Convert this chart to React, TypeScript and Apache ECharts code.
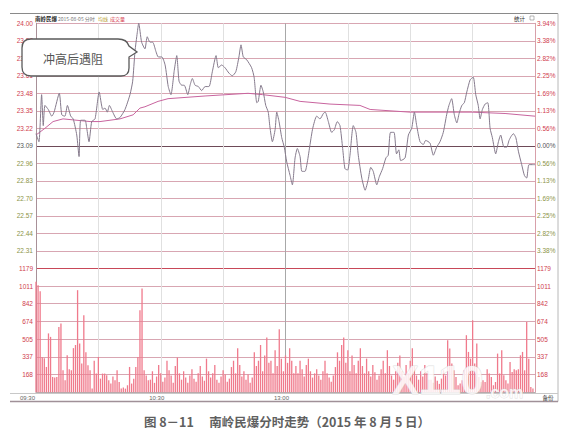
import React, { useEffect, useRef } from "react";
import * as echarts from "echarts";

const PREV_CLOSE = 23.09;
const STEP = 0.13;
const VOL_MAX = 1179;

const priceMinutes = [
  0, 1.4, 2.7, 3.5, 4.3, 5.9, 7.6, 8.7, 11.2, 12.4, 13.9, 15.1, 16.7, 17.9, 19.6, 20.7, 21.5, 23.6, 24.4, 25.5,
  26.8, 28.4, 30.4, 32.1, 33.2, 34.3, 35.3, 36.9, 38.8, 40.4, 42.8, 45.2, 46.5, 47.6, 48.7, 49.4, 50.8, 52.4, 53.5, 54.8,
  56.1, 57.7,
  58.8, 60.5, 62.1, 63.6, 64.9, 66.5, 67.7, 68.8, 70.1, 71.3, 73.0, 74.1, 75.2, 76.5, 78.1, 79.7, 81.3, 83.2, 84.8, 86.6,
  87.7, 89.3, 90.9, 92.8, 94.4, 96.1, 97.6, 98.6, 99.7, 101.3, 103.7, 104.9, 106.2, 106.9, 108.2, 109.3, 110.5, 111.7, 112.5, 113.7,
  115.0, 115.8, 116.9, 118.2, 119.4,
  120.6, 122.2, 123.3, 124.6, 125.7, 127.0, 127.9, 129.4, 130.5, 131.8, 133.1, 135.0, 136.6, 138.2, 139.1, 140.6, 142.2, 143.5, 144.9, 146.2,
  147.5, 148.6, 149.9, 151.0, 152.6, 153.9, 155.0, 156.7, 158.3, 159.8, 161.0, 162.2, 163.9, 165.1, 166.7, 168.3, 169.4, 170.5, 172.2, 173.4,
  174.5, 175.4, 177.5, 179.1, 180.7, 182.0, 183.1, 184.7, 186.3, 187.4, 189.5, 191.1, 192.7, 194.3, 195.9, 197.5, 198.6, 199.9, 201.2, 202.4,
  203.5, 204.8, 206.0, 207.2, 208.8, 210.3, 211.5, 212.7, 213.6, 214.7, 216.0, 217.3, 218.4, 219.5, 221.1, 222.4, 223.5, 225.1, 226.4, 227.5,
  228.5, 229.6, 230.8, 232.0, 233.6, 234.9, 236.0, 237.1, 239.2, 240,
];

const priceValues = [
  23.18, 23.12, 23.47, 23.24, 23.39, 23.36, 23.31, 23.34, 23.48, 23.32, 23.31, 23.39, 23.31, 23.29, 23.17, 23.01, 23.28, 23.28, 23.22, 23.12,
  23.27, 23.29, 23.49, 23.36, 23.37, 23.34, 23.39, 23.34, 23.29, 23.30, 23.36, 23.47, 23.57, 23.79, 23.93, 24.0, 23.86, 23.81, 23.9, 23.86,
  23.86, 23.79,
  23.75, 23.75, 23.69, 23.53, 23.47, 23.65, 23.76, 23.57, 23.54, 23.54, 23.47, 23.54, 23.59, 23.54, 23.53, 23.5, 23.53, 23.53, 23.64, 23.76,
  23.67, 23.69, 23.67, 23.63, 23.61, 23.64, 23.75, 23.84, 23.75, 23.73, 23.67, 23.6, 23.41, 23.42, 23.54, 23.49, 23.39, 23.34, 23.23, 23.12,
  23.21, 23.34, 23.27, 23.15, 23.08,
  22.97, 22.87, 22.8, 23.0, 23.07, 23.01, 22.9, 22.9, 22.97, 23.1, 23.22, 23.31, 23.29, 23.33, 23.34, 23.27, 23.19, 23.21, 23.27, 23.24,
  23.07, 22.92, 22.91, 23.02, 23.24, 23.19, 23.02, 22.85, 22.76, 22.84, 22.93, 22.9, 22.8, 22.86, 22.92, 23.0, 23.02, 23.19, 23.19, 23.03,
  23.06, 22.98, 23.0, 23.17, 23.22, 23.34, 23.24, 23.12, 23.1, 23.13, 23.11, 23.02, 23.08, 23.12, 23.19, 23.32, 23.39, 23.44, 23.32, 23.26,
  23.33, 23.39, 23.41, 23.49, 23.58, 23.6, 23.47, 23.39, 23.29, 23.36, 23.4, 23.41, 23.22, 23.15, 23.03, 23.12, 23.17, 23.08, 23.08, 23.13,
  23.16, 23.18, 23.15, 23.05, 22.95, 22.87, 22.85, 22.95, 22.95, 22.95,
];

const avgMinutes = [0, 4.3, 8.2, 13, 26, 30.8, 40.4, 46.7, 50, 52.4, 58.7, 63.5, 81.3, 102, 109, 119.8, 127, 141.4, 155.8, 160.7, 179.9, 209.7, 225.6, 240];
const avgValues = [23.17, 23.22, 23.27, 23.29, 23.27, 23.27, 23.29, 23.32, 23.37, 23.38, 23.42, 23.44, 23.46, 23.48, 23.47, 23.45, 23.42, 23.4, 23.39, 23.36, 23.34, 23.34, 23.33, 23.31];

const volumes = [
  1050, 1019, 960, 333, 323, 241, 560, 527, 146, 140,
  146, 622, 654, 209, 115, 352, 219, 209, 420, 450,
  971, 463, 273, 733, 380, 257, 209, 35, 300, 178,
  336, 130, 178, 178, 162, 114, 83, 150, 114, 209,
  98, 35, 45, 35, 67, 241, 83, 130, 241, 336,
  781, 987, 209, 160, 114, 120, 200, 90, 150, 260,
  180, 100, 140, 300, 210, 160, 90, 250, 330, 180,
  120, 200, 140, 90, 160, 220, 130, 100, 180, 250,
  150, 110, 320, 200, 140, 180, 260, 120, 90, 150,
  210, 170, 100, 130, 240, 300, 180, 420, 260, 150,
  200, 120, 170, 90, 140, 380, 250, 300, 450, 200,
  350, 520, 280, 300, 180, 400, 250, 600, 320, 200,
  350, 280, 420, 300, 180, 250, 180, 300, 220, 150,
  260, 320, 200, 140, 180, 220, 160, 120, 200, 300,
  180, 140, 100, 160, 240, 380, 300, 450, 520, 280,
  400, 200, 350, 260, 180, 300, 420, 250, 180, 320,
  200, 150, 260, 190, 120, 160, 220, 300, 180, 400,
  250, 160, 120, 200, 280, 350, 200, 150, 260, 180,
  300, 420, 250, 160, 120, 200, 150, 260, 180, 120,
  120, 90, 150, 110, 80, 130, 209, 160, 495, 416,
  273, 209, 146, 67, 83, 114, 209, 543, 384, 320,
  685, 273, 463, 146, 98, 114, 98, 219, 178, 146,
  67, 98, 368, 178, 400, 162, 114, 83, 289, 194,
  219, 209, 219, 352, 384, 209, 669, 320, 51, 35,
];

const timeLabels = ["09:30", "10:30", "13:00"];
const timeLabelMinutes = [0, 60, 120];

const calloutPath =
  "M31 39 L118 39 Q127 39 129 46 L137 52 L129 57 L129 68 Q129 76 121 76 L31 76 Q22 76 22 67 L22 48 Q22 39 31 39 Z";
let registered = false;
function ensureShapes() {
  if (registered) return;
  echarts.graphic.registerShape("callout", echarts.graphic.extendPath(calloutPath, {}) as any);
  registered = true;
}

const FONT = "Liberation Sans";
const CJK = '"Noto Sans CJK SC"';
const GRID_LEFT = 36;
const GRID_RIGHT = 39;
const PRICE_TOP = 23.3;
const PRICE_H = 245;
const VOL_TOP = PRICE_TOP + PRICE_H;
const VOL_H = 124;

function buildOption() {
  const priceData = priceMinutes.map((m, i) => [m, (priceValues[i] - PREV_CLOSE) / STEP]);
  const avgData = avgMinutes.map((m, i) => [m, (avgValues[i] - PREV_CLOSE) / STEP]);
  const volUnit = VOL_MAX / 7;
  const volData = volumes.map((v, i) => [i, v / volUnit]);

  const priceSplit: string[] = [];
  for (let i = 0; i <= 14; i++) priceSplit.push(i === 0 ? "#c84858" : i === 7 ? "#6e4a58" : "#d8a6b2");
  const volSplit: string[] = [];
  for (let i = 0; i <= 7; i++) volSplit.push(i === 0 ? "#b8b8b8" : i === 7 ? "#c84858" : "#d8a6b2");
  const vSplit: string[] = [];
  for (let i = 0; i <= 8; i++) vSplit.push(i === 4 ? "#a8a8a8" : "#e0e0e0");

  const rich = {
    u: { color: "#d0404e", fontSize: 6.5, fontFamily: FONT },
    z: { color: "#555555", fontSize: 6.5, fontFamily: FONT },
    d: { color: "#8c9448", fontSize: 6.5, fontFamily: FONT },
  };

  const xCommon = (gridIndex: number) => ({
    type: "value" as const,
    gridIndex,
    min: 0,
    max: 240,
    interval: 30,
    axisLabel: { show: false },
    axisTick: { show: false },
    axisLine: { show: gridIndex === 1, lineStyle: { color: "#b0b0b0" } },
    splitLine: { show: true, lineStyle: { color: vSplit, width: 1 } },
  });

  const timeTexts = timeLabels.map((t, i) => ({
    type: "text",
    x: timeLabelMinutes[i] === 0 ? 27.5 : GRID_LEFT + (timeLabelMinutes[i] / 240) * 499 - 4,
    y: 397.5,
    style: { text: t, fill: "#666", font: `6px ${FONT}`, textAlign: "center", textVerticalAlign: "middle" },
  }));

  return {
    animation: false,
    backgroundColor: "#ffffff",
    grid: [
      { left: GRID_LEFT, right: GRID_RIGHT, top: PRICE_TOP, height: PRICE_H },
      { left: GRID_LEFT, right: GRID_RIGHT, top: VOL_TOP, height: VOL_H },
    ],
    xAxis: [xCommon(0), xCommon(1)],
    yAxis: [
      {
        type: "value",
        gridIndex: 0,
        position: "left",
        min: -7,
        max: 7,
        interval: 1,
        axisLine: { show: true, lineStyle: { color: "#a89098" } },
        axisTick: { show: false },
        axisLabel: {
          showMinLabel: false,
          showMaxLabel: true,
          margin: 3,
          formatter: (v: number) => {
            const s = (PREV_CLOSE + v * STEP).toFixed(2);
            return v > 0 ? `{u|${s}}` : v < 0 ? `{d|${s}}` : `{z|${s}}`;
          },
          rich,
        },
        splitLine: { show: true, lineStyle: { color: priceSplit, width: 1 } },
      },
      {
        type: "value",
        gridIndex: 0,
        position: "right",
        min: -7,
        max: 7,
        interval: 1,
        axisLine: { show: true, lineStyle: { color: "#d8a0aa" } },
        axisTick: { show: false },
        axisLabel: {
          showMinLabel: false,
          showMaxLabel: true,
          margin: 2,
          formatter: (v: number) => {
            const s = Math.abs((v * STEP * 100) / PREV_CLOSE).toFixed(2) + "%";
            return v > 0 ? `{u|${s}}` : v < 0 ? `{d|${s}}` : `{z|${s}}`;
          },
          rich,
        },
        splitLine: { show: false },
      },
      {
        type: "value",
        gridIndex: 1,
        position: "left",
        min: 0,
        max: 7,
        interval: 1,
        axisLine: { show: true, lineStyle: { color: "#a89098" } },
        axisTick: { show: false },
        axisLabel: {
          showMinLabel: false,
          showMaxLabel: true,
          margin: 3,
          formatter: (v: number) => `{u|${Math.round((v * VOL_MAX) / 7)}}`,
          rich,
        },
        splitLine: { show: true, lineStyle: { color: volSplit, width: 1 } },
      },
      {
        type: "value",
        gridIndex: 1,
        position: "right",
        min: 0,
        max: 7,
        interval: 1,
        axisLine: { show: true, lineStyle: { color: "#d8a0aa" } },
        axisTick: { show: false },
        axisLabel: {
          showMinLabel: false,
          showMaxLabel: true,
          margin: 2,
          formatter: (v: number) => `{u|${Math.round((v * VOL_MAX) / 7)}}`,
          rich,
        },
        splitLine: { show: false },
      },
    ],
    series: [
      {
        type: "line",
        name: "avg",
        xAxisIndex: 0,
        yAxisIndex: 0,
        data: avgData,
        showSymbol: false,
        lineStyle: { color: "#c8649e", width: 1 },
        z: 3,
      },
      {
        type: "line",
        name: "price",
        xAxisIndex: 0,
        yAxisIndex: 0,
        data: priceData,
        showSymbol: false,
        smooth: 0.2,
        lineStyle: { color: "#857a8c", width: 1 },
        z: 4,
      },
      {
        type: "bar",
        name: "vol",
        xAxisIndex: 1,
        yAxisIndex: 2,
        data: volData,
        barWidth: 1.3,
        itemStyle: { color: "#f07a8c", borderWidth: 0 },
        z: 3,
      },
    ],
    graphic: [
      { type: "line", shape: { x1: 10, y1: 13.5, x2: 558, y2: 13.5 }, style: { stroke: "#8a8a8a", lineWidth: 1 } },
      { type: "line", shape: { x1: 558, y1: 13.5, x2: 558, y2: 401.5 }, style: { stroke: "#b8b8b8", lineWidth: 1 } },
      { type: "line", shape: { x1: 10, y1: 393.5, x2: 558, y2: 393.5 }, style: { stroke: "#c8c8c8", lineWidth: 1 } },
      { type: "line", shape: { x1: 10, y1: 401.5, x2: 558, y2: 401.5 }, style: { stroke: "#a09098", lineWidth: 1.5 } },
      {
        type: "text",
        x: 35,
        y: 18.5,
        style: { text: "南岭民爆", fill: "#222", font: `bold 5.5px ${CJK}`, textVerticalAlign: "middle" },
      },
      {
        type: "text",
        x: 58,
        y: 18.5,
        style: { text: "2015-08-05 分时", fill: "#777", font: `5px ${CJK}`, textVerticalAlign: "middle" },
      },
      {
        type: "text",
        x: 98,
        y: 18.5,
        style: { text: "均线", fill: "#b8a030", font: `5px ${CJK}`, textVerticalAlign: "middle" },
      },
      {
        type: "text",
        x: 110,
        y: 18.5,
        style: { text: "成交量", fill: "#d84050", font: `5px ${CJK}`, textVerticalAlign: "middle" },
      },
      {
        type: "text",
        x: 514,
        y: 18.5,
        style: { text: "统计", fill: "#333", font: `5.5px ${CJK}`, textVerticalAlign: "middle" },
      },
      { type: "rect", shape: { x: 530, y: 16, width: 4, height: 4 }, style: { fill: "#fff", stroke: "#888", lineWidth: 0.6 } },
      ...timeTexts,
      {
        type: "text",
        x: 548,
        y: 397.5,
        style: { text: "备份", fill: "#333", font: `5.5px ${CJK}`, textAlign: "center", textVerticalAlign: "middle" },
      },
      {
        type: "text",
        x: 392,
        y: 380,
        z: 50,
        style: {
          text: "X110",
          fill: "rgba(255,255,255,0.82)",
          stroke: "rgba(200,200,200,0.55)",
          lineWidth: 1,
          font: `bold 40px ${FONT}`,
          textVerticalAlign: "middle",
        },
      },
      {
        type: "text",
        x: 486,
        y: 392,
        z: 50,
        style: {
          text: ".com",
          fill: "rgba(255,255,255,0.82)",
          stroke: "rgba(200,200,200,0.55)",
          lineWidth: 0.8,
          font: `bold 16px ${FONT}`,
          textVerticalAlign: "middle",
        },
      },
      {
        type: "callout",
        x: 0,
        y: 0,
        z: 100,
        style: { fill: "#ffffff", stroke: "#5a5a5a", lineWidth: 1.3 },
      },
      {
        type: "text",
        x: 73,
        y: 58.5,
        z: 101,
        style: {
          text: "冲高后遇阻",
          fill: "#555",
          font: `12px ${CJK}`,
          textAlign: "center",
          textVerticalAlign: "middle",
        },
      },
      {
        type: "text",
        x: 287,
        y: 421,
        style: {
          text: "图 8－11　 南岭民爆分时走势（2015 年 8 月 5 日）",
          fill: "#5f5f5f",
          font: `bold 12.5px ${CJK}`,
          textAlign: "center",
          textVerticalAlign: "middle",
        },
      },
    ],
  };
}

export default function App() {
  const ref = useRef<HTMLDivElement>(null);
  useEffect(() => {
    ensureShapes();
    const chart = echarts.init(ref.current as HTMLDivElement, null, { renderer: "svg" });
    chart.setOption(buildOption() as any);
    return () => chart.dispose();
  }, []);
  return (
    <div
      ref={ref}
      style={{ position: "fixed", left: 0, top: 0, width: 574, height: 436, background: "#fff" }}
    />
  );
}
